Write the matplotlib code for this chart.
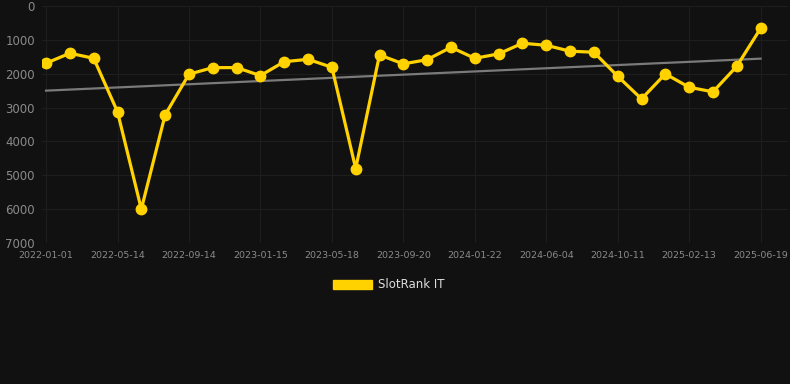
import numpy as np
import matplotlib
matplotlib.use("Agg")
import matplotlib.pyplot as plt
from matplotlib.patches import Patch

# SlotRank IT position over time (lower is better, axis inverted)
rank_it = [1690, 1395, 1545, 3125, 6000, 3215, 2015, 1820, 1820, 2055,
           1645, 1575, 1810, 4800, 1445, 1710, 1585, 1220, 1545, 1415,
           1100, 1160, 1335, 1365, 2075, 2745, 2005, 2400, 2535, 1780, 660]
tick_labels = ["2022-01-01", "2022-05-14", "2022-09-14", "2023-01-15",
               "2023-05-18", "2023-09-20", "2024-01-22", "2024-06-04",
               "2024-10-11", "2025-02-13", "2025-06-19"]
trend_ends = [2500, 1555]
y_ticks = [0, 1000, 2000, 3000, 4000, 5000, 6000, 7000]

bg = "#111111"
yellow = "#FFD200"

fig = plt.figure(figsize=(7.9, 3.84), dpi=100, facecolor=bg)
ax = fig.add_axes([42 / 790, 1 - 243 / 384, 746 / 790, 237 / 384])
ax.set_facecolor(bg)

x = np.arange(len(rank_it))
ax.plot([x[0], x[-1]], trend_ends, color="#7a7a7a", lw=1.6, zorder=2)
ax.plot(x, rank_it, color=yellow, lw=2.3, marker="o", markersize=7.5,
        zorder=3, solid_joinstyle="round")

ax.set_xlim(-0.17, 31.15)
ax.set_ylim(7000, 0)
ax.set_yticks(y_ticks)
ax.set_yticklabels([str(v) for v in y_ticks])
ax.set_xticks(x[::3])
ax.set_xticklabels(tick_labels)

ax.grid(True, color="#1e1e1e", lw=0.8)
ax.set_axisbelow(True)
for s in ax.spines.values():
    s.set_visible(False)
ax.tick_params(axis="y", length=0, pad=5, labelsize=8.5, labelcolor="#8a8a8a")
ax.tick_params(axis="x", length=0, pad=6, labelsize=6.8, labelcolor="#8a8a8a")

handle = Patch(facecolor=yellow, edgecolor=yellow)
fig.legend([handle], ["SlotRank IT"], loc="center", bbox_to_anchor=(0.492, 1 - 285 / 384),
           frameon=False, fontsize=8.5, labelcolor="#dddddd",
           handlelength=3.3, handleheight=0.9, handletextpad=0.5)

fig.savefig("out.png", dpi=100, facecolor=bg)
